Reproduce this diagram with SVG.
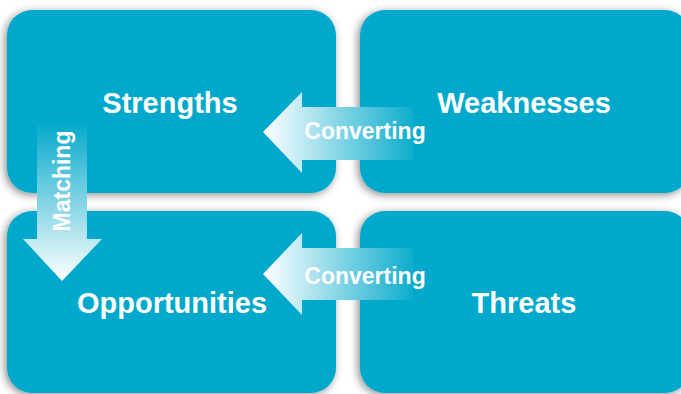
<svg xmlns="http://www.w3.org/2000/svg" width="681" height="394" viewBox="0 0 681 394">
  <style>
    .box { fill: #02a9cb; filter: url(#shade); }
    .big { font-family: "Liberation Sans", Arial, sans-serif; font-weight: bold; font-size: 29px; fill: #ffffff; text-anchor: middle; }
    .small { font-family: "Liberation Sans", Arial, sans-serif; font-weight: bold; font-size: 23px; fill: #ffffff; text-anchor: middle; }
  </style>
  <defs>
    <filter id="shade" x="-10%" y="-10%" width="120%" height="120%">
      <feDropShadow dx="-2" dy="2" stdDeviation="4" flood-color="#000000" flood-opacity="0.45"/>
    </filter>
    <linearGradient id="fadeLeft" gradientUnits="userSpaceOnUse" x1="263" y1="0" x2="415" y2="0">
      <stop offset="0" stop-color="#ffffff"/>
      <stop offset="1" stop-color="#0aabcc"/>
    </linearGradient>
    <linearGradient id="fadeDown" gradientUnits="userSpaceOnUse" x1="0" y1="123" x2="0" y2="281">
      <stop offset="0" stop-color="#05a9cb"/>
      <stop offset="1" stop-color="#ffffff"/>
    </linearGradient>
  </defs>

  <rect width="681" height="394" fill="#ffffff"/>

  <g id="strengths">
    <rect class="box" x="7" y="10" width="329" height="183" rx="25" ry="25"/>
    <text class="big" x="170" y="113">Strengths</text>
  </g>
  <g id="weaknesses">
    <rect class="box" x="360" y="10" width="330" height="183" rx="25" ry="25"/>
    <text class="big" x="524" y="113">Weaknesses</text>
  </g>
  <g id="opportunities">
    <rect class="box" x="7" y="211" width="329" height="182" rx="25" ry="25"/>
    <text class="big" x="172" y="313">Opportunities</text>
  </g>
  <g id="threats">
    <rect class="box" x="360" y="211" width="330" height="182" rx="25" ry="25"/>
    <text class="big" x="524" y="313">Threats</text>
  </g>

  <g id="connectors">
    <!-- Weaknesses to Strengths -->
    <path d="M263,132 L302,92 L302,107 L413,107 L413,160 L302,160 L302,173 Z" fill="url(#fadeLeft)"/>
    <text class="small" x="365" y="139">Converting</text>
    <!-- Threats to Opportunities -->
    <path d="M263,274 L302,233 L302,248 L413,248 L413,300 L302,300 L302,315 Z" fill="url(#fadeLeft)"/>
    <text class="small" x="365" y="284">Converting</text>
    <!-- Strengths down to Opportunities -->
    <path d="M37,123 L87,123 L87,239 L102,239 L62,281 L23,239 L37,239 Z" fill="url(#fadeDown)"/>
    <text class="small" transform="translate(70,181) rotate(-90)" x="0" y="0">Matching</text>
  </g>
</svg>
